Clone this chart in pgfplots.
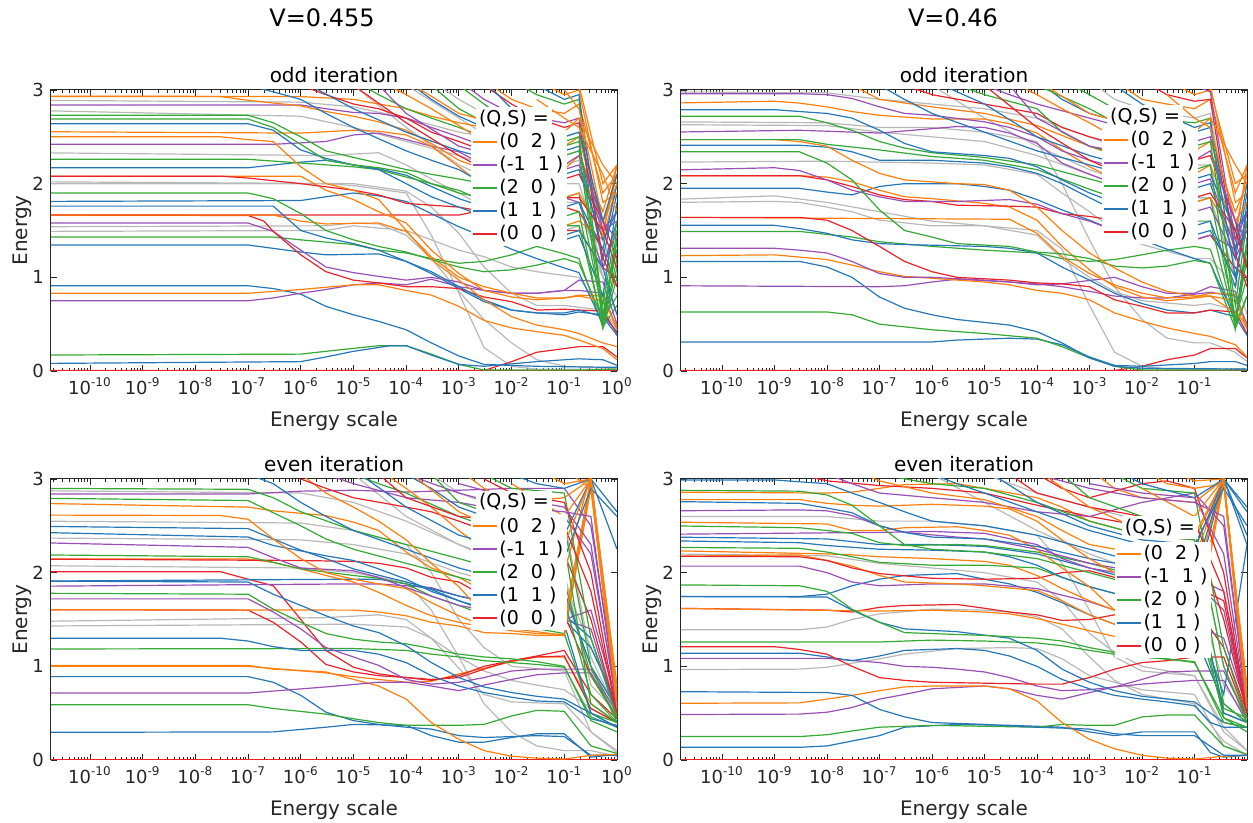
\documentclass[border=0pt]{standalone}
\usepackage{fontspec}
\setmainfont{DejaVu Sans}
\usepackage{pgfplots}
\pgfplotsset{compat=1.18}
\definecolor{cO}{HTML}{FF7F0E}
\definecolor{cP}{HTML}{9A4FB5}
\definecolor{cG}{HTML}{35A935}
\definecolor{cB}{HTML}{2677B8}
\definecolor{cR}{HTML}{E8232A}
\definecolor{cY}{HTML}{B8B8B8}
\definecolor{axc}{HTML}{262626}
\newcommand{\fTk}{\fontsize{9}{10}\selectfont}
\newcommand{\fLb}{\fontsize{10}{12}\selectfont}
\newcommand{\fLg}{\fontsize{9.5}{11}\selectfont}
\def\minorlist{1e-12}
\foreach \e in {-11,...,-1}{\foreach \m in {2,...,9}{\xdef\minorlist{\minorlist,\m e\e}}}
\pgfplotsset{
 lo/.style={draw=cO, line width=0.6pt},
 lp/.style={draw=cP, line width=0.6pt},
 lg/.style={draw=cG, line width=0.6pt},
 lb/.style={draw=cB, line width=0.6pt},
 lr/.style={draw=cR, line width=0.6pt},
 ly/.style={draw=cY, line width=0.6pt},
}
\newcommand{\pl}[2]{\addplot[#1, forget plot] coordinates {#2};}
% legend: #1,#2 = top-left corner of the entry box; #3,#4 = centre of the "(Q,S) =" heading
\newcommand{\lrow}[5]{%
\draw[#3, line width=0.8pt] ([xshift=1pt,yshift=#4]rel axis cs:#1,#2) -- ([xshift=13pt,yshift=#4]rel axis cs:#1,#2);
\node[anchor=west, inner sep=0pt, font=\fLg, text=black] at ([xshift=14pt,yshift=#4]rel axis cs:#1,#2) {#5};}
\newcommand{\mleg}[4]{%
\node[fill=white, inner sep=1.5pt, font=\fLg, text=black] at (rel axis cs:#3,#4) {(Q,S) =};
\fill[white] (rel axis cs:#1,#2) rectangle ([xshift=48pt,yshift=-58pt]rel axis cs:#1,#2);
\lrow{#1}{#2}{cO}{-6pt}{(0\ \ 2\ )}
\lrow{#1}{#2}{cP}{-17.5pt}{(-1\ \ 1\ )}
\lrow{#1}{#2}{cG}{-29pt}{(2\ \ 0\ )}
\lrow{#1}{#2}{cB}{-40.5pt}{(1\ \ 1\ )}
\lrow{#1}{#2}{cR}{-52pt}{(0\ \ 0\ )}}
\begin{document}
\begin{tikzpicture}[x=1pt,y=1pt]
\useasboundingbox (0,0) rectangle (626.5,411.5);
\node[font=\fontsize{12}{14}\selectfont, text=black] at (161,402.5) {V=0.455};
\node[font=\fontsize{12}{14}\selectfont, text=black] at (476.5,402.5) {V=0.46};
% ---------------- top left ----------------
\begin{axis}[scale only axis, width=283pt, height=140.5pt,
  xmode=log, ymin=0, ymax=3, ytick={0,1,2,3},
  xmin=1.82e-11, xmax=1, xtick={1e-10,1e-9,1e-8,1e-7,1e-6,1e-5,1e-4,1e-3,1e-2,1e-1,1},
  xticklabels={10\textsuperscript{-10},10\textsuperscript{-9},10\textsuperscript{-8},10\textsuperscript{-7},10\textsuperscript{-6},10\textsuperscript{-5},10\textsuperscript{-4},10\textsuperscript{-3},10\textsuperscript{-2},10\textsuperscript{-1},10\textsuperscript{0}},
  minor xtick/.expand once={\minorlist},
  axis line style={draw=axc, line width=0.5pt},
  tick style={draw=axc, line width=0.4pt},
  major tick length=3pt, minor tick length=1.6pt, tick align=inside,
  tick label style={font=\fTk, text=axc},
  yticklabel={\pgfmathprintnumber[assume math mode=true]{\tick}},
  xlabel={Energy scale}, ylabel={Energy},
  label style={font=\fLb, text=axc},
  xlabel style={at={(axis description cs:0.5,0)}, anchor=center, yshift=-25pt},
  ylabel style={at={(axis description cs:-0.0512,0.5)}, anchor=center},
  title style={font=\fLb, text=black, at={(axis description cs:0.5,1)}, anchor=center, yshift=1.5pt},
  at={(25.5pt,226pt)}, anchor=south west, title={odd iteration}]
\pl{ly}{(1e-11,1.49)(3e-6,1.5)(1e-5,1.55)(1e-4,1.5)(1e-3,1.29)(3e-3,1.22)(1e-2,1.11)(3e-2,1.06)(0.1,1.02)(0.19,1.0)(0.54,0.62)(1,0.5)}
\pl{ly}{(1e-11,1.54)(3e-6,1.55)(1e-5,1.58)(3e-5,1.57)(1e-4,1.45)(3e-4,1.2)(1e-3,0.85)(3e-3,0.55)(1e-2,0.3)(3e-2,0.12)(0.1,0.05)(1,0.03)}
\pl{ly}{(1e-11,2.0)(3e-6,2.0)(1e-5,1.98)(1e-4,1.9)(3e-4,1.45)(1e-3,0.83)(3e-3,0.25)(1e-2,0.05)(3e-2,0.02)(1,0.02)}
\pl{ly}{(1e-11,2.02)(1e-5,2.0)(1e-4,1.92)(3e-4,1.75)(1e-3,1.47)(3e-3,1.11)(1e-2,0.83)(3e-2,0.7)(0.1,0.7)(0.19,0.68)(0.54,0.65)(1,0.45)}
\pl{ly}{(1e-11,2.33)(3e-6,2.3)(3e-5,2.33)(1e-4,2.2)(3e-4,2.05)(1e-3,1.9)(3e-3,1.75)(1e-2,1.62)(3e-2,1.55)(0.1,1.5)(0.19,1.55)(0.54,1.0)(1,1.3)}
\pl{ly}{(1e-11,2.78)(1e-6,2.72)(1e-5,2.6)(1e-4,2.45)(1e-3,2.3)(1e-2,2.1)(0.1,2.0)(0.19,2.0)(0.54,1.2)(1,1.5)}
\pl{ly}{(1e-11,2.89)(1e-6,2.87)(1e-5,2.82)(1e-4,2.7)(1e-3,2.55)(1e-2,2.45)(0.1,2.3)(0.19,2.35)(0.54,1.6)(1,1.9)}
\pl{ly}{(3e-4,3.1)(1e-3,2.9)(3e-3,2.75)(1e-2,2.6)(3e-2,2.55)(0.1,2.5)(0.19,2.55)(0.54,1.4)(1,1.0)}
\pl{ly}{(1e-4,3.05)(1e-3,2.7)(1e-2,2.35)(0.1,2.2)(0.19,2.25)(0.54,1.0)(1,0.8)}
\pl{ly}{(1e-5,3.05)(1e-4,2.6)(1e-3,2.2)(1e-2,1.95)(0.1,1.8)(0.19,1.8)(0.54,1.0)(1,0.6)}
\pl{lr}{(1e-11,0.005)(1,0.005)}
\pl{lr}{(1e-11,0.005)(3e-3,0.005)(1e-2,0.1)(3e-2,0.2)(0.19,0.26)(0.54,0.26)(1,0.15)}
\pl{lg}{(1e-11,0.17)(1e-6,0.18)(3e-6,0.21)(3e-5,0.27)(1e-4,0.27)(3e-4,0.18)(1e-3,0.07)(3e-3,0.01)(0.19,0.01)(1,0.02)}
\pl{lb}{(1e-11,0.08)(1e-6,0.1)(3e-6,0.15)(1e-5,0.21)(5e-5,0.27)(1e-4,0.27)(3e-4,0.17)(1e-3,0.07)(3e-3,0.05)(3e-2,0.1)(0.19,0.13)(0.54,0.12)(1,0.06)}
\pl{lb}{(1e-11,0.91)(1e-7,0.91)(3e-7,0.88)(1e-6,0.82)(3e-6,0.69)(1e-5,0.6)(3e-5,0.53)(1e-4,0.44)(3e-4,0.3)(1e-3,0.16)(3e-3,0.07)(3e-2,0.05)(0.54,0.04)(1,0.04)}
\pl{lp}{(1e-11,0.75)(1e-7,0.75)(3e-7,0.78)(1e-6,0.83)(3e-6,0.87)(1e-5,0.92)(3e-5,0.94)(1e-4,0.92)(3e-4,0.98)(1e-3,0.9)(3e-3,0.86)(1e-2,0.83)(3e-2,0.83)(0.1,0.86)(0.19,0.86)(0.54,0.83)(1,0.45)}
\pl{lo}{(1e-11,0.83)(1e-7,0.83)(1e-6,0.87)(1e-5,0.92)(3e-5,0.92)(1e-4,0.86)(3e-4,0.81)(1e-3,0.69)(3e-3,0.54)(1e-2,0.46)(3e-2,0.42)(0.1,0.38)(0.19,0.33)(0.54,0.24)(1,0.12)}
\pl{lb}{(1e-11,1.345)(1e-7,1.345)(1e-6,1.27)(3e-6,1.24)(3e-5,1.25)(1e-4,1.17)(3e-4,1.04)(1e-3,0.88)(3e-3,0.74)(1e-2,0.65)(3e-2,0.62)(0.1,0.6)(0.19,0.63)(0.54,0.6)(1,0.42)}
\pl{lg}{(1e-11,1.43)(3e-7,1.43)(1e-6,1.4)(1e-5,1.35)(3e-5,1.29)(1e-4,1.26)(3e-4,1.2)(1e-3,1.15)(3e-3,1.17)(1e-2,1.24)(3e-2,1.33)(0.1,1.25)(0.19,1.2)(0.54,0.47)(1,0.7)}
\pl{lp}{(1e-11,1.58)(1e-7,1.58)(3e-7,1.49)(1e-6,1.29)(3e-6,1.11)(1e-5,1.05)(3e-5,1.01)(1e-4,0.97)(3e-4,1.0)(1e-3,0.95)(3e-3,0.86)(1e-2,0.83)(3e-2,0.83)(0.1,0.86)(0.19,0.97)(0.54,0.95)(1,0.5)}
\pl{lr}{(1e-11,1.665)(1e-7,1.66)(2e-7,1.6)(3e-7,1.49)(1e-6,1.24)(3e-6,1.06)(1e-5,0.97)(3e-5,0.94)(1e-4,0.9)(3e-4,0.9)(1e-3,0.88)(3e-3,0.79)(1e-2,0.74)(3e-2,0.65)(0.1,0.66)(0.19,0.65)(0.54,0.64)(1,0.4)}
\pl{lr}{(1e-11,1.665)(1e-3,1.665)(3e-3,1.72)(1e-2,1.78)(3e-2,1.8)(0.1,1.75)(0.19,1.7)(0.54,1.3)(1,0.9)}
\pl{lo}{(1e-11,1.665)(3e-7,1.665)(1e-6,1.6)(3e-6,1.57)(3e-5,1.58)(1e-4,1.49)(3e-4,1.22)(1e-3,1.0)(3e-3,0.9)(1e-2,0.83)(3e-2,0.78)(0.1,0.78)(0.19,0.81)(0.54,0.8)(1,0.45)}
\pl{lb}{(1e-11,1.76)(3e-7,1.76)(1e-6,1.5)(3e-6,1.42)(1e-5,1.36)(3e-5,1.29)(1e-4,1.17)(3e-4,1.06)(1e-3,0.9)(3e-3,0.76)(1e-2,0.65)(3e-2,0.62)(0.1,0.62)(0.19,0.65)(0.54,0.58)(1,0.38)}
\pl{lb}{(1e-11,1.81)(1e-6,1.82)(3e-6,1.86)(1e-5,1.9)(3e-5,1.87)(1e-4,1.81)(3e-4,1.68)(1e-3,1.54)(3e-3,1.43)(1e-2,1.3)(3e-2,1.2)(0.1,1.1)(0.19,1.05)(0.54,0.5)(1,1.4)}
\pl{lg}{(1e-11,1.9)(1e-7,1.9)(3e-7,1.84)(1e-6,1.68)(3e-6,1.5)(1e-5,1.4)(3e-5,1.33)(1e-4,1.27)(3e-4,1.19)(1e-3,1.11)(3e-3,1.06)(1e-2,1.08)(3e-2,1.13)(0.1,1.2)(0.19,1.15)(0.54,0.55)(1,0.8)}
\pl{lo}{(1e-11,2.08)(1e-6,2.08)(3e-6,1.93)(1e-5,1.83)(3e-5,1.7)(1e-4,1.58)(3e-4,1.29)(1e-3,1.04)(3e-3,0.86)(1e-2,0.79)(3e-2,0.76)(0.1,0.78)(0.19,0.8)(0.54,0.75)(1,0.48)}
\pl{lr}{(1e-11,2.08)(3e-8,2.08)(1e-7,2.06)(1e-6,2.0)(1e-5,1.93)(3e-5,1.88)(1e-4,1.79)(3e-4,1.77)(1e-3,1.75)(3e-3,1.7)(1e-2,1.65)(3e-2,1.55)(0.1,1.5)(0.19,1.5)(0.54,1.1)(1,1.0)}
\pl{lb}{(1e-11,2.17)(1e-7,2.17)(1e-6,2.23)(3e-6,2.25)(1e-5,2.2)(3e-5,2.16)(1e-4,2.09)(3e-4,1.97)(1e-3,1.84)(3e-3,1.75)(1e-2,1.61)(3e-2,1.5)(0.1,1.45)(0.19,1.5)(0.54,1.1)(1,1.6)}
\pl{lg}{(1e-11,2.26)(1e-7,2.26)(1e-6,2.22)(1e-5,2.18)(3e-5,2.15)(1e-4,2.07)(3e-4,2.0)(1e-3,1.93)(3e-3,1.81)(1e-2,1.7)(3e-2,1.6)(0.1,1.55)(0.19,1.55)(0.54,0.5)(1,1.2)}
\pl{lp}{(1e-11,2.42)(3e-7,2.42)(3e-6,2.45)(1e-5,2.52)(3e-5,2.54)(1e-4,2.47)(3e-4,2.4)(1e-3,2.34)(3e-3,2.2)(1e-2,2.05)(3e-2,1.95)(0.1,1.85)(0.19,1.8)(0.54,1.1)(1,1.5)}
\pl{lo}{(1e-11,2.5)(3e-8,2.5)(1e-7,2.47)(3e-7,2.45)(1e-6,2.18)(3e-6,2.0)(1e-5,1.93)(3e-5,1.83)(1e-4,1.5)(3e-4,1.19)(1e-3,0.97)(3e-3,0.76)(1e-2,0.58)(3e-2,0.49)(0.1,0.44)(0.19,0.4)(0.54,0.3)(1,0.26)}
\pl{lo}{(1e-11,2.555)(1e-6,2.54)(1e-5,2.57)(3e-5,2.56)(1e-4,2.52)(3e-4,2.4)(1e-3,2.18)(3e-3,1.97)(1e-2,1.8)(3e-2,1.65)(0.1,1.55)(0.19,1.6)(0.54,1.4)(1,2.0)}
\pl{lb}{(1e-11,2.64)(1e-7,2.64)(3e-7,2.57)(1e-6,2.36)(3e-6,2.27)(1e-5,2.2)(3e-5,2.15)(1e-4,2.0)(3e-4,1.86)(1e-3,1.75)(3e-3,1.65)(1e-2,1.55)(3e-2,1.45)(0.1,1.4)(0.19,1.45)(0.54,0.8)(1,1.8)}
\pl{lg}{(1e-11,2.69)(1e-7,2.69)(3e-7,2.6)(1e-6,2.42)(3e-6,2.25)(1e-5,2.2)(3e-5,2.17)(1e-4,2.12)(3e-4,2.0)(1e-3,1.9)(3e-3,1.85)(1e-2,1.75)(3e-2,1.7)(0.1,1.65)(0.19,1.7)(0.54,0.45)(1,1.0)}
\pl{lg}{(1e-11,2.73)(1e-7,2.73)(3e-7,2.65)(1e-6,2.5)(3e-6,2.35)(1e-5,2.28)(3e-5,2.22)(1e-4,2.15)(3e-4,2.1)(1e-3,2.05)(3e-3,2.0)(1e-2,1.95)(3e-2,1.88)(0.1,1.85)(0.19,1.9)(0.54,0.6)(1,1.3)}
\pl{lp}{(1e-11,2.84)(1e-6,2.84)(3e-6,2.8)(1e-5,2.76)(3e-5,2.75)(1e-4,2.7)(3e-4,2.6)(1e-3,2.5)(3e-3,2.4)(1e-2,2.3)(3e-2,2.2)(0.1,2.15)(0.19,2.2)(0.54,1.5)(1,1.7)}
\pl{lo}{(1e-11,2.93)(3e-8,2.93)(1e-7,2.89)(1e-6,2.83)(3e-6,2.77)(1e-5,2.72)(3e-5,2.66)(1e-4,2.57)(3e-4,2.43)(1e-3,2.25)(3e-3,2.15)(1e-2,2.05)(3e-2,1.95)(0.1,1.85)(0.19,1.9)(0.54,1.45)(1,2.2)}
\pl{lo}{(1e-11,2.935)(1e-6,2.93)(1e-5,2.9)(3e-5,2.85)(1e-4,2.8)(3e-4,2.72)(1e-3,2.65)(3e-3,2.6)(1e-2,2.55)(3e-2,2.45)(0.1,2.4)(0.19,2.5)(0.54,1.5)(1,2.1)}
\pl{lb}{(1e-7,3.05)(3e-7,2.98)(1e-6,2.9)(3e-6,2.75)(1e-5,2.6)(3e-5,2.48)(1e-4,2.35)(3e-4,2.25)(1e-3,2.15)(3e-3,2.0)(1e-2,1.9)(3e-2,1.8)(0.1,1.75)(0.19,1.8)(0.54,1.3)(1,2.0)}
\pl{lr}{(1e-6,3.05)(3e-6,2.95)(1e-5,2.85)(3e-5,2.8)(1e-4,2.7)(3e-4,2.55)(1e-3,2.45)(3e-3,2.35)(1e-2,2.2)(3e-2,2.1)(0.1,2.05)(0.19,2.1)(0.54,1.6)(1,1.2)}
\pl{lg}{(1e-5,3.1)(3e-5,2.95)(1e-4,2.8)(3e-4,2.7)(1e-3,2.6)(3e-3,2.5)(1e-2,2.4)(3e-2,2.35)(0.1,2.3)(0.19,2.35)(0.54,0.5)(1,1.1)}
\pl{lo}{(3e-5,3.1)(1e-4,2.95)(3e-4,2.8)(1e-3,2.62)(3e-3,2.45)(1e-2,2.3)(3e-2,2.2)(0.1,2.15)(0.19,2.3)(0.54,1.7)(1,2.2)}
\pl{lb}{(1e-4,3.1)(3e-4,2.9)(1e-3,2.72)(3e-3,2.6)(1e-2,2.5)(3e-2,2.4)(0.1,2.35)(0.19,2.4)(0.54,1.2)(1,1.9)}
\pl{lp}{(1e-3,3.1)(3e-3,2.9)(1e-2,2.75)(3e-2,2.7)(0.1,2.65)(0.19,2.7)(0.54,1.5)(1,1.6)}
\pl{lo}{(3e-3,3.1)(1e-2,2.9)(3e-2,2.8)(0.1,2.75)(0.19,2.85)(0.54,1.9)(1,2.1)}
\pl{lg}{(1e-2,3.1)(3e-2,2.95)(0.1,2.85)(0.19,2.9)(0.54,0.55)(1,1.5)}
\pl{lo}{(3e-2,3.1)(0.1,2.95)(0.19,3.0)(0.54,1.8)(1,1.9)}
\pl{lo}{(0.1,3.1)(0.19,3.05)(0.54,2.0)(1,2.2)}
\pl{lb}{(3e-2,3.05)(0.1,2.9)(0.19,2.95)(0.54,1.1)(1,0.6)}
\pl{lr}{(3e-3,3.05)(1e-2,2.85)(3e-2,2.7)(0.1,2.6)(0.19,2.65)(0.54,1.2)(1,0.9)}
\pl{lg}{(1e-3,3.05)(3e-3,2.85)(1e-2,2.65)(3e-2,2.55)(0.1,2.45)(0.19,2.5)(0.54,0.6)(1,1.4)}
\pl{lo}{(0.1,3.0)(0.19,2.8)(0.54,1.6)(1,2.0)}
\pl{lo}{(3e-2,2.9)(0.1,2.7)(0.19,2.6)(0.54,2.1)(1,1.7)}
\pl{lb}{(1e-6,3.1)(1e-5,2.8)(1e-4,2.55)(1e-3,2.35)(1e-2,2.2)(0.1,2.1)(0.19,2.15)(0.54,1.4)(1,1.7)}
\pl{lr}{(1e-5,3.05)(1e-4,2.65)(1e-3,2.3)(1e-2,2.0)(0.1,1.85)(0.19,1.85)(0.54,1.5)(1,1.1)}
\pl{lp}{(3e-5,3.05)(1e-4,2.75)(1e-3,2.4)(1e-2,2.25)(0.1,2.2)(0.19,2.3)(0.54,1.6)(1,1.4)}
\pl{lg}{(3e-4,3.05)(1e-3,2.8)(1e-2,2.5)(0.1,2.4)(0.19,2.45)(0.54,0.7)(1,1.6)}
\pl{lo}{(1e-4,3.1)(1e-3,2.75)(1e-2,2.6)(0.1,2.55)(0.19,2.7)(0.54,2.2)(1,2.0)}
\pl{lb}{(3e-3,3.1)(1e-2,2.8)(0.1,2.5)(0.19,2.55)(0.54,1.6)(1,2.1)}
\mleg{0.742}{0.858}{0.818}{0.9}
\end{axis}
% ---------------- top right ----------------
\begin{axis}[scale only axis, width=283pt, height=140.5pt,
  xmode=log, ymin=0, ymax=3, ytick={0,1,2,3},
  xmin=1.66e-11, xmax=1, xtick={1e-10,1e-9,1e-8,1e-7,1e-6,1e-5,1e-4,1e-3,1e-2,1e-1},
  xticklabels={10\textsuperscript{-10},10\textsuperscript{-9},10\textsuperscript{-8},10\textsuperscript{-7},10\textsuperscript{-6},10\textsuperscript{-5},10\textsuperscript{-4},10\textsuperscript{-3},10\textsuperscript{-2},10\textsuperscript{-1}},
  minor xtick/.expand once={\minorlist},
  axis line style={draw=axc, line width=0.5pt},
  tick style={draw=axc, line width=0.4pt},
  major tick length=3pt, minor tick length=1.6pt, tick align=inside,
  tick label style={font=\fTk, text=axc},
  yticklabel={\pgfmathprintnumber[assume math mode=true]{\tick}},
  xlabel={Energy scale}, ylabel={Energy},
  label style={font=\fLb, text=axc},
  xlabel style={at={(axis description cs:0.5,0)}, anchor=center, yshift=-25pt},
  ylabel style={at={(axis description cs:-0.0512,0.5)}, anchor=center},
  title style={font=\fLb, text=black, at={(axis description cs:0.5,1)}, anchor=center, yshift=1.5pt},
  at={(340.5pt,226pt)}, anchor=south west, title={odd iteration}]
\pl{ly}{(1e-11,1.8)(1e-9,1.81)(3e-9,1.8)(1e-8,1.75)(3e-8,1.7)(1e-7,1.61)(1e-6,1.55)(1e-5,1.55)(1e-4,1.5)(3e-4,1.3)(1e-3,0.7)(3e-3,0.2)(1e-2,0.05)(3e-2,0.02)(1,0.02)}
\pl{ly}{(1e-11,1.83)(1e-9,1.87)(1e-8,1.8)(1e-7,1.7)(1e-6,1.6)(1e-5,1.55)(1e-4,1.45)(3e-4,1.2)(1e-3,1.0)(3e-3,0.85)(1e-2,0.75)(0.1,0.7)(0.2,0.72)(0.6,0.65)(1,0.45)}
\pl{ly}{(1e-11,2.23)(1e-8,2.24)(1e-6,2.22)(1e-5,2.2)(1e-4,2.1)(3e-4,1.9)(1e-3,1.7)(3e-3,1.5)(1e-2,1.35)(0.1,1.2)(0.2,1.2)(0.6,0.9)(1,1.2)}
\pl{ly}{(1e-11,2.63)(1e-8,2.62)(1e-7,2.55)(1e-6,2.5)(1e-5,2.45)(1e-4,2.3)(1e-3,2.1)(1e-2,1.9)(0.1,1.85)(0.2,1.85)(0.6,1.0)(1,1.2)}
\pl{ly}{(1e-11,2.66)(1e-8,2.65)(1e-7,2.6)(1e-6,2.6)(1e-5,2.55)(1e-4,2.45)(3e-4,2.0)(1e-3,1.4)(3e-3,0.9)(1e-2,0.55)(3e-2,0.35)(0.1,0.3)(0.2,0.3)(0.6,0.2)(1,0.1)}
\pl{ly}{(1e-11,2.98)(1e-8,2.97)(1e-7,2.9)(1e-6,2.85)(1e-5,2.8)(1e-4,2.7)(1e-3,2.5)(1e-2,2.3)(0.1,2.2)(0.2,2.2)(0.6,1.1)(1,1.0)}
\pl{ly}{(1e-3,3.1)(3e-3,2.9)(1e-2,2.8)(0.1,2.7)(0.2,2.75)(0.6,1.2)(1,1.0)}
\pl{ly}{(1e-6,3.05)(1e-5,2.7)(1e-4,2.4)(1e-3,2.15)(1e-2,1.95)(0.1,1.85)(0.2,1.85)(0.6,1.0)(1,0.6)}
\pl{lr}{(1e-11,0.005)(1,0.005)}
\pl{lr}{(1e-11,0.005)(3e-3,0.005)(1e-2,0.05)(3e-2,0.12)(0.1,0.17)(0.2,0.24)(0.6,0.24)(1,0.14)}
\pl{lb}{(1e-11,0.31)(1e-6,0.31)(3e-6,0.33)(3e-5,0.35)(1e-4,0.34)(3e-4,0.28)(1e-3,0.15)(3e-3,0.06)(1e-2,0.05)(0.1,0.08)(0.2,0.1)(0.6,0.1)(1,0.06)}
\pl{lg}{(1e-11,0.63)(1e-8,0.63)(3e-8,0.6)(1e-7,0.5)(1e-6,0.44)(1e-5,0.4)(1e-4,0.35)(3e-4,0.26)(1e-3,0.14)(3e-3,0.05)(1e-2,0.01)(1,0.01)}
\pl{lb}{(1e-11,1.17)(3e-9,1.17)(1e-8,1.11)(3e-8,1.0)(1e-7,0.79)(3e-7,0.67)(1e-6,0.6)(3e-6,0.55)(3e-5,0.49)(1e-4,0.42)(3e-4,0.3)(1e-3,0.14)(3e-3,0.05)(1e-2,0.03)(1,0.02)}
\pl{lp}{(1e-11,0.91)(1e-7,0.9)(3e-7,0.91)(1e-6,0.95)(3e-6,0.98)(3e-5,0.95)(1e-4,0.92)(3e-4,0.93)(3e-3,1.0)(1e-2,0.9)(3e-2,0.83)(0.1,0.83)(0.2,0.9)(0.6,0.85)(1,0.45)}
\pl{lo}{(1e-11,1.23)(1e-9,1.24)(1e-8,1.19)(3e-8,1.13)(1e-7,1.06)(3e-7,1.01)(1e-6,0.99)(1e-5,0.95)(3e-5,0.92)(1e-4,0.86)(3e-4,0.83)(1e-3,0.76)(3e-3,0.62)(1e-2,0.53)(3e-2,0.46)(0.1,0.4)(0.2,0.37)(0.6,0.28)(1,0.15)}
\pl{lp}{(1e-11,1.31)(1e-9,1.31)(3e-9,1.29)(1e-8,1.26)(3e-8,1.17)(1e-7,1.04)(3e-7,1.0)(1e-6,1.0)(1e-5,0.97)(3e-5,0.95)(1e-4,0.93)(3e-4,0.9)(1e-3,0.85)(3e-3,0.8)(1e-2,0.78)(3e-2,0.78)(0.1,0.82)(0.2,0.84)(0.6,0.8)(1,0.5)}
\pl{lg}{(1e-11,1.49)(3e-9,1.49)(3e-8,1.43)(1e-7,1.38)(1e-6,1.33)(1e-5,1.29)(1e-4,1.26)(3e-4,1.2)(1e-3,1.17)(3e-3,1.19)(1e-2,1.24)(3e-2,1.29)(0.1,1.33)(0.2,1.3)(0.6,0.5)(1,0.8)}
\pl{lb}{(1e-11,1.555)(1e-9,1.555)(3e-9,1.52)(1e-8,1.47)(3e-8,1.4)(1e-7,1.36)(3e-7,1.35)(1e-5,1.33)(3e-5,1.31)(1e-4,1.26)(3e-4,1.11)(1e-3,0.97)(3e-3,0.83)(1e-2,0.72)(3e-2,0.65)(0.1,0.62)(0.2,0.65)(0.6,0.58)(1,0.38)}
\pl{lo}{(1e-11,1.64)(3e-5,1.62)(1e-4,1.47)(3e-4,1.22)(1e-3,1.04)(3e-3,0.92)(1e-2,0.83)(3e-2,0.78)(0.1,0.79)(0.2,0.83)(0.6,0.82)(1,0.45)}
\pl{lr}{(1e-11,1.64)(3e-9,1.64)(1e-8,1.61)(3e-8,1.5)(1e-7,1.33)(3e-7,1.17)(1e-6,1.06)(3e-6,1.0)(3e-5,0.97)(1e-4,0.94)(3e-4,0.93)(1e-3,0.9)(3e-3,0.76)(1e-2,0.69)(3e-2,0.62)(0.1,0.62)(0.2,0.65)(0.6,0.63)(1,0.4)}
\pl{lb}{(1e-11,1.95)(3e-9,1.95)(1e-8,1.91)(3e-8,1.88)(1e-7,1.97)(3e-7,2.0)(3e-6,2.0)(1e-5,1.97)(3e-5,1.93)(1e-4,1.83)(3e-4,1.72)(1e-3,1.61)(3e-3,1.5)(1e-2,1.4)(3e-2,1.3)(0.1,1.2)(0.2,1.15)(0.6,0.55)(1,1.4)}
\pl{lo}{(1e-11,2.085)(3e-9,2.085)(1e-8,2.07)(3e-8,2.02)(1e-7,1.93)(3e-7,1.86)(1e-6,1.84)(1e-5,1.79)(3e-5,1.75)(1e-4,1.61)(3e-4,1.33)(1e-3,1.08)(3e-3,0.9)(1e-2,0.79)(3e-2,0.75)(0.1,0.78)(0.2,0.8)(0.6,0.75)(1,0.48)}
\pl{lr}{(1e-11,2.085)(3e-9,2.085)(1e-8,2.04)(3e-8,1.97)(1e-7,1.88)(3e-7,1.83)(1e-6,1.81)(3e-6,1.77)(3e-5,1.76)(1e-4,1.75)(3e-4,1.68)(1e-3,1.65)(3e-3,1.61)(1e-2,1.55)(3e-2,1.45)(0.1,1.4)(0.2,1.45)(0.6,1.1)(1,1.0)}
\pl{lp}{(1e-11,2.145)(1e-9,2.17)(3e-9,2.14)(1e-8,2.04)(3e-8,1.93)(1e-7,1.86)(3e-7,1.81)(3e-6,1.81)(3e-5,1.83)(1e-4,1.78)(3e-4,1.68)(1e-3,1.6)(3e-3,1.5)(1e-2,1.45)(0.1,1.4)(0.2,1.45)(0.6,1.3)(1,1.5)}
\pl{lg}{(1e-11,2.34)(3e-9,2.34)(1e-8,2.22)(3e-8,2.04)(1e-7,1.72)(3e-7,1.5)(1e-6,1.43)(3e-6,1.36)(3e-5,1.33)(1e-4,1.27)(3e-4,1.25)(1e-3,1.2)(3e-3,1.12)(1e-2,1.1)(3e-2,1.12)(0.1,1.18)(0.2,1.15)(0.6,0.45)(1,0.8)}
\pl{lb}{(1e-11,2.41)(3e-9,2.41)(1e-8,2.39)(3e-8,2.34)(1e-7,2.25)(1e-6,2.25)(1e-5,2.22)(3e-5,2.18)(1e-4,2.11)(3e-4,2.0)(1e-3,1.85)(3e-3,1.72)(1e-2,1.6)(3e-2,1.5)(0.1,1.45)(0.2,1.5)(0.6,1.0)(1,1.7)}
\pl{lo}{(1e-11,2.47)(1e-9,2.47)(3e-9,2.45)(1e-8,2.4)(3e-8,2.25)(1e-7,2.11)(3e-7,2.04)(3e-6,2.0)(1e-5,1.99)(3e-5,1.93)(1e-4,1.75)(3e-4,1.5)(1e-3,1.26)(3e-3,1.1)(1e-2,0.95)(3e-2,0.85)(0.1,0.8)(0.2,0.8)(0.6,0.62)(1,0.5)}
\pl{lg}{(1e-11,2.47)(3e-9,2.47)(1e-8,2.42)(1e-7,2.36)(1e-6,2.29)(1e-5,2.25)(1e-4,2.15)(3e-4,2.05)(1e-3,1.94)(3e-3,1.85)(1e-2,1.75)(3e-2,1.65)(0.1,1.6)(0.2,1.6)(0.6,0.5)(1,1.3)}
\pl{lp}{(1e-11,2.55)(3e-9,2.57)(1e-7,2.54)(3e-6,2.61)(1e-5,2.6)(3e-5,2.54)(1e-4,2.43)(3e-4,2.22)(1e-3,2.1)(3e-3,2.0)(1e-2,1.9)(3e-2,1.8)(0.1,1.7)(0.2,1.75)(0.6,1.2)(1,1.5)}
\pl{lg}{(1e-11,2.72)(3e-9,2.72)(1e-8,2.65)(3e-8,2.57)(1e-7,2.45)(3e-7,2.38)(1e-6,2.33)(1e-5,2.28)(1e-4,2.2)(1e-3,2.05)(1e-2,1.9)(0.1,1.8)(0.2,1.85)(0.6,0.55)(1,1.0)}
\pl{lb}{(1e-11,2.79)(1e-9,2.79)(3e-9,2.77)(1e-8,2.75)(3e-8,2.7)(1e-7,2.57)(3e-7,2.43)(1e-6,2.34)(1e-5,2.3)(3e-5,2.27)(1e-4,2.18)(3e-4,2.04)(1e-3,1.9)(3e-3,1.8)(1e-2,1.7)(3e-2,1.6)(0.1,1.55)(0.2,1.6)(0.6,0.9)(1,1.8)}
\pl{lo}{(1e-11,2.86)(1e-9,2.88)(3e-9,2.86)(1e-8,2.82)(3e-8,2.77)(1e-7,2.73)(1e-6,2.69)(1e-5,2.69)(3e-5,2.64)(1e-4,2.54)(3e-4,2.36)(1e-3,2.18)(3e-3,2.05)(1e-2,1.95)(3e-2,1.85)(0.1,1.8)(0.2,1.85)(0.6,1.4)(1,2.2)}
\pl{lp}{(1e-11,2.96)(3e-9,2.96)(1e-8,2.95)(3e-8,2.91)(1e-7,2.82)(3e-7,2.75)(1e-6,2.73)(1e-5,2.66)(3e-5,2.6)(1e-4,2.5)(3e-4,2.35)(1e-3,2.25)(1e-2,2.1)(0.1,2.0)(0.2,2.05)(0.6,1.3)(1,1.6)}
\pl{lo}{(3e-8,3.05)(1e-7,2.9)(1e-6,2.82)(1e-5,2.75)(1e-4,2.62)(1e-3,2.4)(1e-2,2.2)(0.1,2.1)(0.2,2.2)(0.6,1.5)(1,2.1)}
\pl{lb}{(1e-7,3.05)(3e-7,2.9)(1e-6,2.75)(1e-5,2.55)(1e-4,2.35)(1e-3,2.2)(1e-2,2.05)(0.1,1.95)(0.2,2.0)(0.6,1.2)(1,1.9)}
\pl{lr}{(3e-7,3.05)(1e-6,2.95)(1e-5,2.85)(1e-4,2.75)(3e-4,2.6)(1e-3,2.5)(1e-2,2.35)(0.1,2.25)(0.2,2.3)(0.6,1.6)(1,1.1)}
\pl{lg}{(3e-6,3.05)(1e-5,2.95)(1e-4,2.8)(3e-4,2.55)(1e-3,2.4)(1e-2,2.25)(0.1,2.15)(0.2,2.2)(0.6,0.45)(1,1.4)}
\pl{lp}{(1e-5,3.05)(3e-5,2.95)(1e-4,2.85)(1e-3,2.7)(1e-2,2.55)(0.1,2.45)(0.2,2.5)(0.6,1.4)(1,1.7)}
\pl{lo}{(3e-5,3.1)(1e-4,2.95)(3e-4,2.8)(1e-3,2.65)(3e-3,2.5)(1e-2,2.4)(0.1,2.35)(0.2,2.45)(0.6,1.7)(1,2.0)}
\pl{lb}{(1e-4,3.1)(3e-4,2.9)(1e-3,2.75)(1e-2,2.6)(0.1,2.55)(0.2,2.6)(0.6,1.0)(1,1.6)}
\pl{lg}{(3e-4,3.1)(1e-3,2.95)(3e-3,2.8)(1e-2,2.7)(0.1,2.65)(0.2,2.7)(0.6,0.5)(1,1.2)}
\pl{lo}{(3e-3,3.1)(1e-2,2.9)(3e-2,2.85)(0.1,2.8)(0.2,2.9)(0.6,1.9)(1,2.2)}
\pl{lr}{(1e-2,3.1)(3e-2,2.95)(0.1,2.88)(0.2,2.9)(0.6,1.25)(1,0.9)}
\pl{lo}{(3e-2,3.1)(0.1,2.95)(0.2,3.0)(0.6,2.0)(1,2.1)}
\pl{lo}{(0.1,3.1)(0.2,3.05)(0.6,1.8)(1,1.9)}
\pl{lp}{(0.1,3.05)(0.2,2.98)(0.6,1.4)(1,1.7)}
\pl{lb}{(3e-3,3.05)(1e-2,2.85)(0.1,2.6)(0.2,2.65)(0.6,1.3)(1,2.0)}
\pl{lo}{(3e-2,2.95)(0.1,2.7)(0.2,2.6)(0.6,1.6)(1,1.8)}
\pl{lb}{(1e-6,3.1)(1e-5,2.85)(1e-4,2.5)(1e-3,2.3)(1e-2,2.15)(0.1,2.05)(0.2,2.1)(0.6,1.5)(1,1.7)}
\pl{lr}{(1e-5,3.05)(1e-4,2.6)(1e-3,2.25)(1e-2,2.0)(0.1,1.85)(0.2,1.9)(0.6,1.5)(1,1.1)}
\pl{lp}{(3e-5,3.05)(1e-4,2.7)(1e-3,2.4)(1e-2,2.3)(0.1,2.25)(0.2,2.35)(0.6,1.6)(1,1.4)}
\pl{lg}{(1e-4,3.05)(1e-3,2.8)(1e-2,2.5)(0.1,2.4)(0.2,2.45)(0.6,0.7)(1,1.6)}
\pl{lo}{(1e-4,3.1)(1e-3,2.75)(1e-2,2.6)(0.1,2.55)(0.2,2.7)(0.6,2.2)(1,2.0)}
\mleg{0.744}{0.865}{0.82}{0.905}
\end{axis}
% ---------------- bottom left ----------------
\begin{axis}[scale only axis, width=283pt, height=140.5pt,
  xmode=log, ymin=0, ymax=3, ytick={0,1,2,3},
  xmin=1.82e-11, xmax=1, xtick={1e-10,1e-9,1e-8,1e-7,1e-6,1e-5,1e-4,1e-3,1e-2,1e-1,1},
  xticklabels={10\textsuperscript{-10},10\textsuperscript{-9},10\textsuperscript{-8},10\textsuperscript{-7},10\textsuperscript{-6},10\textsuperscript{-5},10\textsuperscript{-4},10\textsuperscript{-3},10\textsuperscript{-2},10\textsuperscript{-1},10\textsuperscript{0}},
  minor xtick/.expand once={\minorlist},
  axis line style={draw=axc, line width=0.5pt},
  tick style={draw=axc, line width=0.4pt},
  major tick length=3pt, minor tick length=1.6pt, tick align=inside,
  tick label style={font=\fTk, text=axc},
  yticklabel={\pgfmathprintnumber[assume math mode=true]{\tick}},
  xlabel={Energy scale}, ylabel={Energy},
  label style={font=\fLb, text=axc},
  xlabel style={at={(axis description cs:0.5,0)}, anchor=center, yshift=-25pt},
  ylabel style={at={(axis description cs:-0.0512,0.5)}, anchor=center},
  title style={font=\fLb, text=black, at={(axis description cs:0.5,1)}, anchor=center, yshift=1.5pt},
  at={(25.5pt,31.5pt)}, anchor=south west, title={even iteration}]
\pl{ly}{(1e-11,1.43)(1e-5,1.45)(1e-4,1.42)(3e-4,1.3)(1e-3,1.1)(3e-3,0.95)(1e-2,0.85)(3e-2,0.8)(0.1,0.75)(0.32,0.55)(1,0.4)}
\pl{ly}{(1e-11,1.48)(3e-6,1.52)(3e-5,1.55)(1e-4,1.5)(3e-4,1.3)(1e-3,0.98)(3e-3,0.7)(1e-2,0.62)(0.1,0.6)(0.32,0.3)(1,0.1)}
\pl{ly}{(1e-11,2.075)(1e-6,2.05)(1e-5,2.0)(3e-5,1.95)(1e-4,1.9)(3e-4,1.6)(1e-3,1.1)(3e-3,0.6)(1e-2,0.3)(3e-2,0.15)(0.1,0.1)(0.32,0.1)(1,0.04)}
\pl{ly}{(1e-11,2.37)(1e-6,2.35)(1e-5,2.3)(1e-4,2.2)(1e-3,2.0)(1e-2,1.85)(0.1,1.75)(0.32,1.0)(1,0.45)}
\pl{ly}{(1e-11,2.875)(1e-6,2.85)(1e-5,2.75)(1e-4,2.55)(1e-3,2.3)(1e-2,2.05)(0.1,1.9)(0.32,1.2)(1,0.6)}
\pl{ly}{(3e-4,3.05)(1e-3,2.85)(1e-2,2.65)(0.1,2.55)(0.32,1.1)(1,0.5)}
\pl{ly}{(1e-11,2.55)(1e-6,2.53)(1e-5,2.45)(1e-4,2.3)(3e-4,2.0)(1e-3,1.5)(3e-3,1.2)(1e-2,1.0)(0.1,0.95)(0.32,0.3)(1,0.08)}
\pl{ly}{(1e-5,3.05)(1e-4,2.6)(1e-3,2.3)(1e-2,2.1)(0.1,2.0)(0.32,0.8)(1,0.5)}
\pl{lr}{(1e-11,0.005)(1,0.005)}
\pl{lb}{(1e-11,0.295)(3e-7,0.3)(3e-6,0.35)(1e-5,0.38)(1e-4,0.37)(3e-4,0.26)(1e-3,0.19)(3e-3,0.19)(1e-2,0.24)(3e-2,0.28)(0.1,0.28)(0.32,0.03)(1,0.06)}
\pl{lb}{(1e-11,0.89)(1e-7,0.89)(3e-7,0.83)(1e-6,0.69)(3e-6,0.51)(1e-5,0.42)(3e-5,0.38)(1e-4,0.35)(3e-4,0.33)(1e-3,0.26)(3e-3,0.24)(1e-2,0.25)(3e-2,0.26)(0.1,0.25)(0.32,0.05)(1,0.05)}
\pl{lg}{(1e-11,0.59)(1e-7,0.59)(3e-7,0.55)(3e-6,0.49)(1e-5,0.44)(3e-5,0.4)(1e-4,0.37)(1e-3,0.37)(3e-3,0.38)(1e-2,0.47)(3e-2,0.53)(0.1,0.52)(0.32,0.15)(1,0.07)}
\pl{lo}{(1e-11,1.01)(1e-7,1.01)(3e-7,0.97)(3e-6,0.94)(1e-5,0.86)(3e-5,0.79)(1e-4,0.65)(3e-4,0.4)(1e-3,0.22)(3e-3,0.1)(1e-2,0.04)(3e-2,0.02)(0.1,0.01)(0.32,0.05)(1,0.06)}
\pl{lo}{(1e-11,1.0)(1e-7,1.0)(3e-6,0.93)(1e-5,0.89)(3e-5,0.86)(1e-4,0.83)(3e-4,0.84)(1e-3,0.92)(3e-3,0.98)(1e-2,1.05)(3e-2,1.1)(0.1,1.1)(0.32,0.6)(1,0.4)}
\pl{lp}{(1e-11,0.715)(1e-7,0.715)(3e-6,0.78)(3e-5,0.83)(1e-4,0.83)(3e-4,0.79)(1e-3,0.74)(3e-3,0.8)(1e-2,0.86)(3e-2,0.91)(0.1,0.93)(0.32,0.93)(1,0.45)}
\pl{lr}{(1e-11,2.01)(3e-8,2.01)(1e-7,1.93)(3e-7,1.86)(1e-6,1.5)(3e-6,1.17)(1e-5,0.99)(3e-5,0.92)(1e-4,0.88)(3e-4,0.86)(1e-3,0.88)(3e-3,0.97)(1e-2,1.06)(3e-2,1.11)(0.1,1.17)(0.32,0.7)(1,0.44)}
\pl{lr}{(1e-11,1.605)(1e-7,1.6)(3e-7,1.47)(1e-6,1.26)(3e-6,1.02)(1e-5,0.94)(3e-5,0.9)(1e-4,0.88)(3e-4,0.85)(1e-3,0.9)(3e-3,1.0)(1e-2,1.06)(3e-2,1.1)(0.1,1.11)(0.32,0.55)(1,0.4)}
\pl{lg}{(1e-11,1.185)(1e-5,1.19)(1e-4,1.17)(3e-4,1.13)(1e-3,1.1)(3e-3,1.06)(1e-2,1.04)(3e-2,1.02)(0.1,0.99)(0.32,0.46)(1,0.35)}
\pl{lb}{(1e-11,1.3)(3e-8,1.3)(1e-7,1.27)(3e-7,1.21)(1e-6,1.17)(1e-5,1.17)(3e-5,1.13)(1e-4,1.04)(3e-4,0.9)(1e-3,0.79)(3e-3,0.72)(1e-2,0.67)(3e-2,0.63)(0.1,0.62)(0.32,0.44)(1,0.37)}
\pl{lo}{(1e-11,1.605)(1e-5,1.6)(3e-5,1.58)(1e-4,1.54)(3e-4,1.47)(1e-3,1.43)(3e-3,1.36)(1e-2,1.35)(3e-2,1.33)(0.1,1.33)(0.32,3.0)(1,0.5)}
\pl{lp}{(1e-11,1.72)(1e-7,1.72)(3e-7,1.58)(1e-6,1.4)(3e-6,1.2)(1e-5,1.1)(3e-5,1.01)(1e-4,0.86)(3e-4,0.81)(1e-3,0.83)(3e-3,0.88)(1e-2,0.95)(3e-2,0.97)(0.1,0.97)(0.32,0.97)(1,0.5)}
\pl{lg}{(1e-11,1.78)(1e-7,1.77)(3e-7,1.61)(1e-6,1.47)(3e-6,1.35)(1e-5,1.29)(3e-5,1.26)(1e-4,1.24)(3e-4,1.19)(1e-3,1.13)(3e-3,1.1)(1e-2,1.08)(3e-2,1.05)(0.1,1.0)(0.32,0.42)(1,0.3)}
\pl{lp}{(1e-11,1.855)(1e-5,1.88)(3e-5,1.88)(1e-4,1.86)(3e-4,1.84)(1e-3,1.75)(3e-3,1.7)(1e-2,1.6)(3e-2,1.55)(0.1,1.5)(0.32,1.6)(1,0.6)}
\pl{lb}{(1e-11,1.91)(1e-7,1.9)(3e-7,1.77)(1e-6,1.65)(3e-6,1.54)(1e-5,1.43)(3e-5,1.36)(1e-4,1.22)(3e-4,1.04)(1e-3,0.88)(3e-3,0.78)(1e-2,0.72)(3e-2,0.68)(0.1,0.65)(0.32,0.5)(1,0.35)}
\pl{lb}{(1e-11,1.91)(1e-5,1.93)(3e-5,1.93)(1e-4,1.88)(3e-4,1.82)(1e-3,1.7)(3e-3,1.62)(1e-2,1.55)(0.1,1.5)(0.32,1.2)(1,0.6)}
\pl{lo}{(1e-11,2.145)(1e-7,2.145)(3e-7,2.11)(1e-6,2.04)(3e-6,1.97)(1e-5,1.9)(3e-5,1.79)(1e-4,1.65)(3e-4,1.54)(1e-3,1.47)(3e-3,1.42)(1e-2,1.4)(3e-2,1.37)(0.1,1.33)(0.32,2.9)(1,0.55)}
\pl{lr}{(1e-11,2.145)(1e-6,2.13)(1e-5,2.12)(3e-5,2.1)(1e-4,2.05)(3e-4,1.95)(1e-3,1.9)(3e-3,1.75)(1e-2,1.65)(0.1,1.55)(0.32,0.9)(1,0.45)}
\pl{lg}{(1e-11,2.19)(1e-7,2.17)(3e-7,2.11)(1e-6,2.04)(1e-5,1.97)(3e-5,1.94)(1e-4,1.88)(3e-4,1.75)(1e-3,1.65)(3e-3,1.55)(1e-2,1.45)(0.1,1.35)(0.32,0.5)(1,0.4)}
\pl{lp}{(1e-11,2.32)(1e-7,2.27)(3e-7,2.16)(1e-6,2.05)(1e-5,2.02)(3e-5,1.95)(1e-4,1.84)(3e-4,1.75)(1e-3,1.65)(1e-2,1.55)(0.1,1.5)(0.32,1.4)(1,0.5)}
\pl{lb}{(1e-11,2.43)(1e-7,2.38)(3e-7,2.29)(3e-6,2.18)(1e-5,2.13)(3e-5,2.04)(1e-4,1.93)(3e-4,1.8)(1e-3,1.7)(3e-3,1.6)(1e-2,1.5)(0.1,1.45)(0.32,0.5)(1,0.35)}
\pl{lb}{(1e-11,2.495)(1e-7,2.47)(3e-7,2.36)(1e-6,2.24)(3e-6,2.15)(1e-5,2.04)(1e-4,1.9)(1e-3,1.75)(1e-2,1.62)(0.1,1.55)(0.32,1.3)(1,0.5)}
\pl{lo}{(1e-11,2.615)(3e-8,2.61)(1e-7,2.57)(3e-7,2.36)(1e-6,2.15)(3e-6,2.0)(1e-5,1.93)(3e-5,1.88)(1e-4,1.83)(3e-4,1.68)(1e-3,1.54)(3e-3,1.43)(1e-2,1.38)(3e-2,1.35)(0.1,1.34)(0.32,2.95)(1,0.45)}
\pl{lo}{(1e-11,2.74)(1e-7,2.7)(3e-7,2.66)(3e-6,2.61)(1e-5,2.54)(3e-5,2.45)(1e-4,2.22)(3e-4,2.05)(1e-3,1.95)(3e-3,1.8)(1e-2,1.65)(3e-2,1.55)(0.1,1.5)(0.32,3.0)(1,0.5)}
\pl{lg}{(1e-11,2.795)(1e-7,2.77)(3e-7,2.64)(1e-6,2.5)(3e-6,2.36)(1e-5,2.25)(1e-4,2.1)(1e-3,1.95)(1e-2,1.8)(0.1,1.7)(0.32,0.7)(1,0.4)}
\pl{lp}{(1e-11,2.84)(1e-7,2.84)(1e-6,2.87)(1e-5,2.88)(1e-4,2.86)(1e-3,2.88)(1e-2,2.9)(0.1,2.9)(0.32,2.5)(1,0.7)}
\pl{lg}{(1e-11,2.9)(1e-7,2.89)(3e-7,2.8)(1e-6,2.65)(1e-5,2.45)(1e-4,2.3)(1e-3,2.15)(1e-2,2.0)(0.1,1.9)(0.32,0.9)(1,0.45)}
\pl{lb}{(1e-7,3.05)(3e-7,2.95)(1e-6,2.75)(3e-6,2.6)(1e-5,2.45)(1e-4,2.25)(1e-3,2.05)(1e-2,1.9)(0.1,1.8)(0.32,1.0)(1,0.55)}
\pl{lo}{(1e-6,3.05)(3e-6,2.85)(1e-5,2.7)(3e-5,2.55)(1e-4,2.35)(3e-4,2.1)(1e-3,1.85)(3e-3,1.55)(1e-2,1.5)(0.1,1.45)(0.32,3.0)(1,0.6)}
\pl{lr}{(1e-6,3.0)(3e-6,2.9)(1e-5,2.8)(1e-4,2.7)(3e-4,2.65)(1e-3,2.55)(1e-2,2.35)(0.1,2.2)(0.32,1.5)(1,0.5)}
\pl{lp}{(3e-6,3.05)(1e-5,2.95)(1e-4,2.8)(1e-3,2.75)(1e-2,2.65)(0.1,2.6)(0.32,2.2)(1,0.6)}
\pl{lg}{(1e-5,3.05)(3e-5,2.95)(1e-4,2.85)(1e-3,2.6)(1e-2,2.4)(0.1,2.3)(0.32,0.6)(1,0.4)}
\pl{lo}{(3e-5,3.1)(1e-4,2.9)(3e-4,2.7)(1e-3,2.45)(3e-3,2.25)(1e-2,2.1)(0.1,2.0)(0.32,3.05)(1,0.5)}
\pl{lb}{(1e-4,3.05)(3e-4,2.9)(1e-3,2.7)(1e-2,2.5)(0.1,2.4)(0.32,3.0)(1,2.65)}
\pl{lo}{(1e-3,3.1)(3e-3,2.9)(1e-2,2.75)(0.1,2.8)(0.32,3.0)(1,0.7)}
\pl{lg}{(3e-3,3.05)(1e-2,2.9)(0.1,2.85)(0.32,1.3)(1,0.45)}
\pl{lb}{(1e-2,3.05)(3e-2,2.95)(0.1,2.9)(0.32,3.0)(1,2.25)}
\pl{lo}{(3e-2,3.1)(0.1,2.95)(0.32,3.0)(1,0.8)}
\pl{lo}{(0.1,3.1)(0.32,2.9)(1,0.6)}
\pl{lr}{(3e-3,3.0)(1e-2,2.85)(0.1,2.75)(0.32,2.0)(1,0.5)}
\pl{lp}{(1e-3,2.95)(1e-2,2.8)(0.1,2.7)(0.32,2.3)(1,0.55)}
\pl{lo}{(1e-2,2.95)(0.1,2.6)(0.32,3.0)(1,0.65)}
\pl{lb}{(1e-5,3.1)(1e-4,2.7)(1e-3,2.4)(1e-2,2.25)(0.1,2.15)(0.32,2.9)(1,2.6)}
\pl{lr}{(3e-5,3.05)(1e-4,2.8)(1e-3,2.6)(1e-2,2.55)(0.1,2.5)(0.32,1.8)(1,0.5)}
\pl{lp}{(1e-4,3.05)(1e-3,2.85)(1e-2,2.7)(0.1,2.65)(0.32,2.6)(1,0.55)}
\pl{lg}{(3e-4,3.05)(1e-3,2.75)(1e-2,2.55)(0.1,2.5)(0.32,1.0)(1,0.4)}
\pl{lo}{(1e-4,3.1)(1e-3,2.65)(1e-2,2.4)(0.1,2.3)(0.32,3.0)(1,0.55)}
\mleg{0.742}{0.875}{0.818}{0.918}
\end{axis}
% ---------------- bottom right ----------------
\begin{axis}[scale only axis, width=283pt, height=140.5pt,
  xmode=log, ymin=0, ymax=3, ytick={0,1,2,3},
  xmin=1.66e-11, xmax=1, xtick={1e-10,1e-9,1e-8,1e-7,1e-6,1e-5,1e-4,1e-3,1e-2,1e-1},
  xticklabels={10\textsuperscript{-10},10\textsuperscript{-9},10\textsuperscript{-8},10\textsuperscript{-7},10\textsuperscript{-6},10\textsuperscript{-5},10\textsuperscript{-4},10\textsuperscript{-3},10\textsuperscript{-2},10\textsuperscript{-1}},
  minor xtick/.expand once={\minorlist},
  axis line style={draw=axc, line width=0.5pt},
  tick style={draw=axc, line width=0.4pt},
  major tick length=3pt, minor tick length=1.6pt, tick align=inside,
  tick label style={font=\fTk, text=axc},
  yticklabel={\pgfmathprintnumber[assume math mode=true]{\tick}},
  xlabel={Energy scale}, ylabel={Energy},
  label style={font=\fLb, text=axc},
  xlabel style={at={(axis description cs:0.5,0)}, anchor=center, yshift=-25pt},
  ylabel style={at={(axis description cs:-0.0512,0.5)}, anchor=center},
  title style={font=\fLb, text=black, at={(axis description cs:0.5,1)}, anchor=center, yshift=1.5pt},
  at={(340.5pt,31.5pt)}, anchor=south west, title={even iteration}]
\pl{ly}{(1e-11,0.965)(3e-9,0.97)(1e-8,0.99)(1e-7,1.08)(3e-7,1.13)(3e-6,1.19)(3e-5,1.2)(1e-4,1.19)(3e-4,1.08)(1e-3,0.9)(3e-3,0.83)(1e-2,0.75)(0.1,0.7)(0.36,0.15)(1,0.05)}
\pl{ly}{(1e-11,1.39)(3e-9,1.39)(1e-8,1.42)(3e-8,1.5)(1e-7,1.56)(1e-6,1.61)(1e-5,1.6)(3e-5,1.58)(1e-4,1.53)(3e-4,1.4)(1e-3,1.1)(3e-3,0.85)(1e-2,0.7)(0.1,0.6)(0.36,0.2)(1,0.05)}
\pl{ly}{(1e-11,2.6)(1e-8,2.6)(1e-7,2.55)(1e-6,2.55)(1e-5,2.5)(1e-4,2.4)(3e-4,2.1)(1e-3,1.6)(3e-3,1.1)(1e-2,0.95)(0.1,0.9)(0.36,0.3)(1,0.1)}
\pl{ly}{(1e-5,3.05)(1e-4,2.85)(1e-3,2.7)(1e-2,2.55)(0.1,2.5)(0.36,1.0)(1,0.45)}
\pl{ly}{(1e-11,2.2)(1e-8,2.18)(1e-7,2.1)(1e-6,2.05)(1e-5,2.0)(1e-4,1.9)(3e-4,1.7)(1e-3,1.35)(3e-3,1.15)(1e-2,1.0)(0.1,0.9)(0.36,0.35)(1,0.1)}
\pl{ly}{(1e-6,3.05)(1e-5,2.75)(1e-4,2.45)(1e-3,2.2)(1e-2,2.0)(0.1,1.9)(0.36,0.8)(1,0.45)}
\pl{lr}{(1e-11,0.005)(1,0.005)}
\pl{lb}{(1e-11,0.135)(3e-9,0.135)(1e-8,0.15)(1e-7,0.26)(3e-7,0.35)(3e-6,0.38)(3e-5,0.37)(1e-4,0.36)(3e-4,0.35)(1e-3,0.3)(3e-3,0.26)(1e-2,0.3)(0.1,0.3)(0.2,0.08)(0.36,0.03)(1,0.05)}
\pl{lg}{(1e-11,0.25)(3e-9,0.25)(1e-8,0.27)(3e-8,0.31)(1e-7,0.35)(1e-6,0.37)(1e-4,0.35)(3e-4,0.38)(1e-3,0.37)(3e-3,0.37)(1e-2,0.46)(3e-2,0.48)(0.1,0.48)(0.36,0.15)(1,0.06)}
\pl{lp}{(1e-11,0.485)(3e-9,0.49)(1e-8,0.51)(3e-8,0.56)(1e-7,0.65)(3e-7,0.7)(1e-6,0.76)(1e-5,0.79)(3e-5,0.76)(1e-4,0.69)(3e-4,0.65)(1e-3,0.72)(3e-3,0.78)(1e-2,0.81)(3e-2,0.83)(0.1,0.85)(0.36,0.85)(1,0.4)}
\pl{lo}{(1e-11,0.605)(3e-9,0.61)(1e-8,0.65)(3e-8,0.69)(1e-7,0.74)(3e-7,0.78)(1e-6,0.79)(1e-5,0.79)(3e-5,0.76)(1e-4,0.63)(3e-4,0.4)(1e-3,0.22)(3e-3,0.12)(1e-2,0.05)(3e-2,0.02)(0.1,0.01)(0.36,0.04)(1,0.05)}
\pl{lb}{(1e-11,0.73)(1e-8,0.72)(3e-8,0.69)(1e-7,0.54)(3e-7,0.46)(1e-6,0.4)(1e-5,0.38)(1e-4,0.35)(1e-3,0.33)(3e-3,0.28)(1e-2,0.26)(0.1,0.26)(0.36,0.05)(1,0.05)}
\pl{lp}{(1e-11,1.085)(1e-8,1.085)(1e-7,1.04)(3e-7,1.0)(1e-6,0.99)(3e-6,0.97)(1e-5,0.94)(3e-5,0.88)(1e-4,0.79)(3e-4,0.74)(1e-3,0.75)(3e-3,0.78)(1e-2,0.86)(3e-2,0.94)(0.1,0.95)(0.36,0.95)(1,0.45)}
\pl{lb}{(1e-11,1.14)(3e-9,1.14)(1e-8,1.1)(3e-8,1.06)(1e-7,1.11)(3e-7,1.17)(3e-6,1.19)(1e-5,1.17)(3e-5,1.11)(1e-4,1.0)(3e-4,0.86)(1e-3,0.76)(3e-3,0.69)(1e-2,0.65)(3e-2,0.62)(0.1,0.58)(0.2,0.4)(0.36,0.35)(1,0.35)}
\pl{lr}{(1e-11,1.21)(1e-9,1.21)(3e-9,1.18)(1e-8,1.13)(3e-8,1.0)(1e-7,0.88)(3e-7,0.85)(1e-6,0.83)(1e-5,0.82)(1e-4,0.81)(3e-4,0.81)(1e-3,0.88)(3e-3,0.97)(1e-2,1.04)(3e-2,1.06)(0.1,1.1)(0.36,1.1)(1,0.45)}
\pl{lg}{(1e-11,1.26)(1e-7,1.26)(1e-6,1.28)(1e-5,1.27)(1e-4,1.25)(3e-4,1.22)(1e-3,1.17)(3e-3,1.13)(1e-2,1.1)(3e-2,1.08)(0.1,1.04)(0.36,0.45)(1,0.3)}
\pl{lr}{(1e-11,1.62)(1e-8,1.6)(3e-8,1.58)(1e-7,1.63)(3e-7,1.65)(3e-6,1.66)(1e-5,1.62)(3e-5,1.58)(1e-4,1.55)(3e-4,1.49)(1e-3,1.5)(3e-3,1.55)(1e-2,1.6)(0.1,1.65)(0.36,1.2)(1,0.5)}
\pl{lo}{(1e-11,1.62)(1e-7,1.59)(1e-6,1.6)(1e-5,1.58)(3e-5,1.56)(1e-4,1.51)(3e-4,1.45)(1e-3,1.38)(3e-3,1.32)(1e-2,1.3)(0.1,1.3)(0.36,2.95)(1,0.5)}
\pl{lb}{(1e-11,1.745)(3e-9,1.745)(1e-8,1.77)(3e-8,1.86)(1e-7,1.93)(3e-7,1.97)(3e-6,1.99)(1e-5,1.93)(3e-5,1.88)(1e-4,1.79)(3e-4,1.68)(1e-3,1.55)(3e-3,1.45)(1e-2,1.4)(0.1,1.35)(0.36,0.6)(1,0.4)}
\pl{lb}{(1e-11,1.745)(1e-8,1.74)(3e-8,1.6)(1e-7,1.47)(3e-7,1.4)(3e-6,1.37)(3e-5,1.3)(1e-4,1.17)(3e-4,0.97)(1e-3,0.83)(3e-3,0.74)(1e-2,0.68)(0.1,0.62)(0.36,0.4)(1,0.35)}
\pl{lg}{(1e-11,1.87)(3e-9,1.86)(1e-8,1.8)(3e-8,1.61)(1e-7,1.47)(3e-7,1.36)(3e-6,1.34)(1e-5,1.33)(1e-4,1.3)(3e-4,1.27)(1e-3,1.2)(3e-3,1.15)(1e-2,1.1)(0.1,1.05)(0.36,0.4)(1,0.35)}
\pl{lp}{(1e-11,2.07)(3e-9,2.07)(1e-8,2.0)(3e-8,1.9)(1e-7,1.86)(1e-6,1.88)(1e-5,1.88)(1e-4,1.83)(3e-4,1.76)(1e-3,1.69)(3e-3,1.6)(1e-2,1.5)(0.1,1.45)(0.36,1.3)(1,0.55)}
\pl{lo}{(1e-11,2.175)(3e-9,2.19)(1e-8,2.13)(3e-8,2.07)(1e-7,1.97)(3e-7,1.9)(3e-6,1.88)(1e-5,1.86)(1e-4,1.81)(3e-4,1.7)(1e-3,1.55)(3e-3,1.45)(1e-2,1.42)(0.1,1.4)(0.36,3.0)(1,0.55)}
\pl{lr}{(1e-11,2.175)(3e-9,2.17)(1e-8,2.13)(3e-8,2.05)(1e-7,1.99)(1e-6,1.94)(1e-5,1.93)(1e-4,1.94)(3e-4,2.0)(1e-3,2.02)(3e-3,1.95)(1e-2,1.9)(0.1,1.85)(0.36,1.7)(1,0.5)}
\pl{lo}{(1e-11,2.235)(1e-8,2.2)(3e-8,2.19)(1e-7,2.17)(1e-6,2.15)(1e-5,2.12)(3e-5,2.08)(1e-4,1.97)(3e-4,1.83)(1e-3,1.7)(3e-3,1.6)(1e-2,1.55)(0.1,1.5)(0.36,3.0)(1,0.6)}
\pl{lg}{(1e-11,2.27)(3e-9,2.26)(1e-8,2.22)(3e-8,2.17)(1e-7,2.11)(1e-6,2.08)(1e-5,2.08)(1e-4,2.05)(3e-4,1.95)(1e-3,1.85)(1e-2,1.7)(0.1,1.6)(0.36,0.5)(1,0.4)}
\pl{lb}{(1e-11,2.34)(3e-9,2.32)(1e-8,2.29)(1e-7,2.25)(1e-6,2.24)(1e-5,2.22)(3e-5,2.17)(1e-4,2.08)(3e-4,1.95)(1e-3,1.85)(1e-2,1.7)(0.1,1.6)(0.36,0.7)(1,2.3)}
\pl{lb}{(1e-11,2.38)(1e-8,2.36)(1e-7,2.3)(1e-6,2.3)(1e-5,2.28)(1e-4,2.2)(1e-3,2.05)(1e-2,1.9)(0.1,1.8)(0.36,3.0)(1,2.65)}
\pl{lp}{(1e-11,2.41)(1e-7,2.43)(1e-6,2.44)(3e-6,2.43)(1e-5,2.42)(1e-4,2.3)(3e-4,2.15)(1e-3,2.05)(1e-2,1.95)(0.1,1.9)(0.36,1.6)(1,0.5)}
\pl{lg}{(1e-11,2.5)(3e-9,2.48)(1e-8,2.45)(3e-8,2.42)(1e-7,2.32)(3e-7,2.29)(3e-6,2.3)(1e-5,2.29)(1e-4,2.22)(1e-3,2.1)(1e-2,1.95)(0.1,1.85)(0.36,0.55)(1,0.45)}
\pl{lo}{(1e-11,2.54)(1e-8,2.52)(3e-8,2.45)(1e-7,2.45)(3e-7,2.48)(3e-6,2.49)(1e-5,2.45)(3e-5,2.4)(1e-4,2.25)(3e-4,2.05)(1e-3,1.85)(3e-3,1.6)(1e-2,1.45)(3e-2,1.4)(0.1,1.4)(0.36,3.0)(1,0.5)}
\pl{lp}{(1e-11,2.66)(3e-9,2.67)(1e-8,2.66)(3e-8,2.61)(1e-7,2.5)(3e-7,2.43)(3e-6,2.38)(1e-5,2.36)(1e-4,2.25)(1e-3,2.1)(1e-2,2.0)(0.1,1.95)(0.36,1.8)(1,0.55)}
\pl{lb}{(1e-11,2.76)(3e-9,2.74)(1e-8,2.69)(3e-8,2.64)(1e-7,2.5)(3e-7,2.43)(1e-6,2.38)(1e-5,2.36)(1e-4,2.28)(1e-3,2.15)(1e-2,2.05)(0.1,1.95)(0.36,0.5)(1,0.4)}
\pl{lo}{(1e-11,2.78)(3e-9,2.78)(1e-8,2.74)(3e-8,2.72)(1e-7,2.71)(1e-6,2.73)(1e-5,2.71)(3e-5,2.68)(1e-4,2.55)(3e-4,2.35)(1e-3,2.15)(3e-3,2.0)(1e-2,1.95)(0.1,1.9)(0.36,3.0)(1,0.6)}
\pl{lo}{(1e-11,2.86)(1e-8,2.85)(3e-8,2.86)(1e-7,2.9)(3e-7,2.94)(3e-6,2.95)(1e-5,2.9)(1e-4,2.8)(3e-4,2.7)(1e-3,2.55)(1e-2,2.4)(0.1,2.35)(0.36,3.0)(1,0.55)}
\pl{lg}{(1e-11,2.88)(3e-9,2.87)(1e-8,2.83)(3e-8,2.72)(1e-7,2.5)(3e-7,2.3)(1e-6,2.25)(1e-5,2.22)(1e-4,2.15)(1e-3,2.0)(1e-2,1.85)(0.1,1.8)(0.36,0.45)(1,0.35)}
\pl{lb}{(1e-11,2.99)(1e-9,2.99)(3e-9,2.97)(1e-8,2.95)(3e-8,2.85)(1e-7,2.75)(3e-7,2.65)(1e-6,2.55)(1e-5,2.5)(1e-4,2.4)(1e-3,2.25)(1e-2,2.1)(0.1,2.0)(0.36,3.0)(1,2.4)}
\pl{lr}{(3e-9,3.05)(1e-8,2.98)(1e-7,2.93)(1e-6,2.9)(1e-5,2.85)(1e-4,2.72)(1e-3,2.6)(1e-2,2.5)(0.1,2.45)(0.36,1.5)(1,0.5)}
\pl{lp}{(1e-8,3.05)(3e-8,2.95)(1e-7,2.85)(1e-6,2.8)(1e-5,2.75)(1e-4,2.65)(1e-3,2.6)(1e-2,2.75)(0.1,2.85)(0.36,2.5)(1,0.6)}
\pl{lo}{(3e-8,3.1)(1e-7,2.98)(1e-6,2.85)(1e-5,2.78)(1e-4,2.6)(3e-4,2.45)(1e-3,2.3)(1e-2,2.2)(0.1,2.15)(0.36,3.0)(1,0.5)}
\pl{lg}{(1e-7,3.05)(1e-6,2.95)(1e-5,2.9)(1e-4,2.75)(1e-3,2.55)(1e-2,2.4)(0.1,2.35)(0.36,0.6)(1,0.4)}
\pl{lb}{(1e-6,3.05)(3e-6,2.95)(1e-5,2.85)(1e-4,2.65)(1e-3,2.45)(1e-2,2.3)(0.1,2.25)(0.36,3.0)(1,2.7)}
\pl{lr}{(1e-4,3.05)(3e-4,2.9)(1e-3,2.8)(1e-2,2.95)(3e-2,2.98)(0.1,2.9)(0.36,2.0)(1,0.5)}
\pl{lo}{(1e-3,3.1)(3e-3,2.9)(1e-2,2.8)(0.1,2.75)(0.36,3.0)(1,0.7)}
\pl{lg}{(3e-3,3.05)(1e-2,2.9)(0.1,2.85)(0.36,1.2)(1,0.45)}
\pl{lo}{(1e-2,3.1)(3e-2,2.95)(0.1,2.9)(0.36,2.95)(1,0.8)}
\pl{lo}{(3e-2,3.1)(0.1,2.98)(0.36,3.0)(1,0.6)}
\pl{lb}{(3e-3,3.1)(1e-2,2.95)(0.1,2.8)(0.36,3.0)(1,2.3)}
\pl{lp}{(1e-3,2.95)(1e-2,2.85)(0.1,2.8)(0.36,2.2)(1,0.55)}
\pl{lo}{(1e-2,2.9)(0.1,2.6)(0.36,3.0)(1,0.65)}
\pl{lb}{(1e-5,3.1)(1e-4,2.75)(1e-3,2.5)(1e-2,2.35)(0.1,2.3)(0.36,2.9)(1,2.5)}
\pl{lr}{(3e-5,3.05)(1e-4,2.85)(1e-3,2.7)(1e-2,2.6)(0.1,2.55)(0.36,1.8)(1,0.5)}
\pl{lp}{(1e-4,3.05)(1e-3,2.9)(1e-2,2.8)(0.1,2.75)(0.36,2.6)(1,0.55)}
\pl{lg}{(3e-4,3.05)(1e-3,2.8)(1e-2,2.6)(0.1,2.55)(0.36,1.0)(1,0.4)}
\pl{lo}{(1e-4,3.1)(1e-3,2.7)(1e-2,2.45)(0.1,2.4)(0.36,3.0)(1,0.55)}
\mleg{0.767}{0.776}{0.846}{0.829}
\end{axis}
\end{tikzpicture}
\end{document}
